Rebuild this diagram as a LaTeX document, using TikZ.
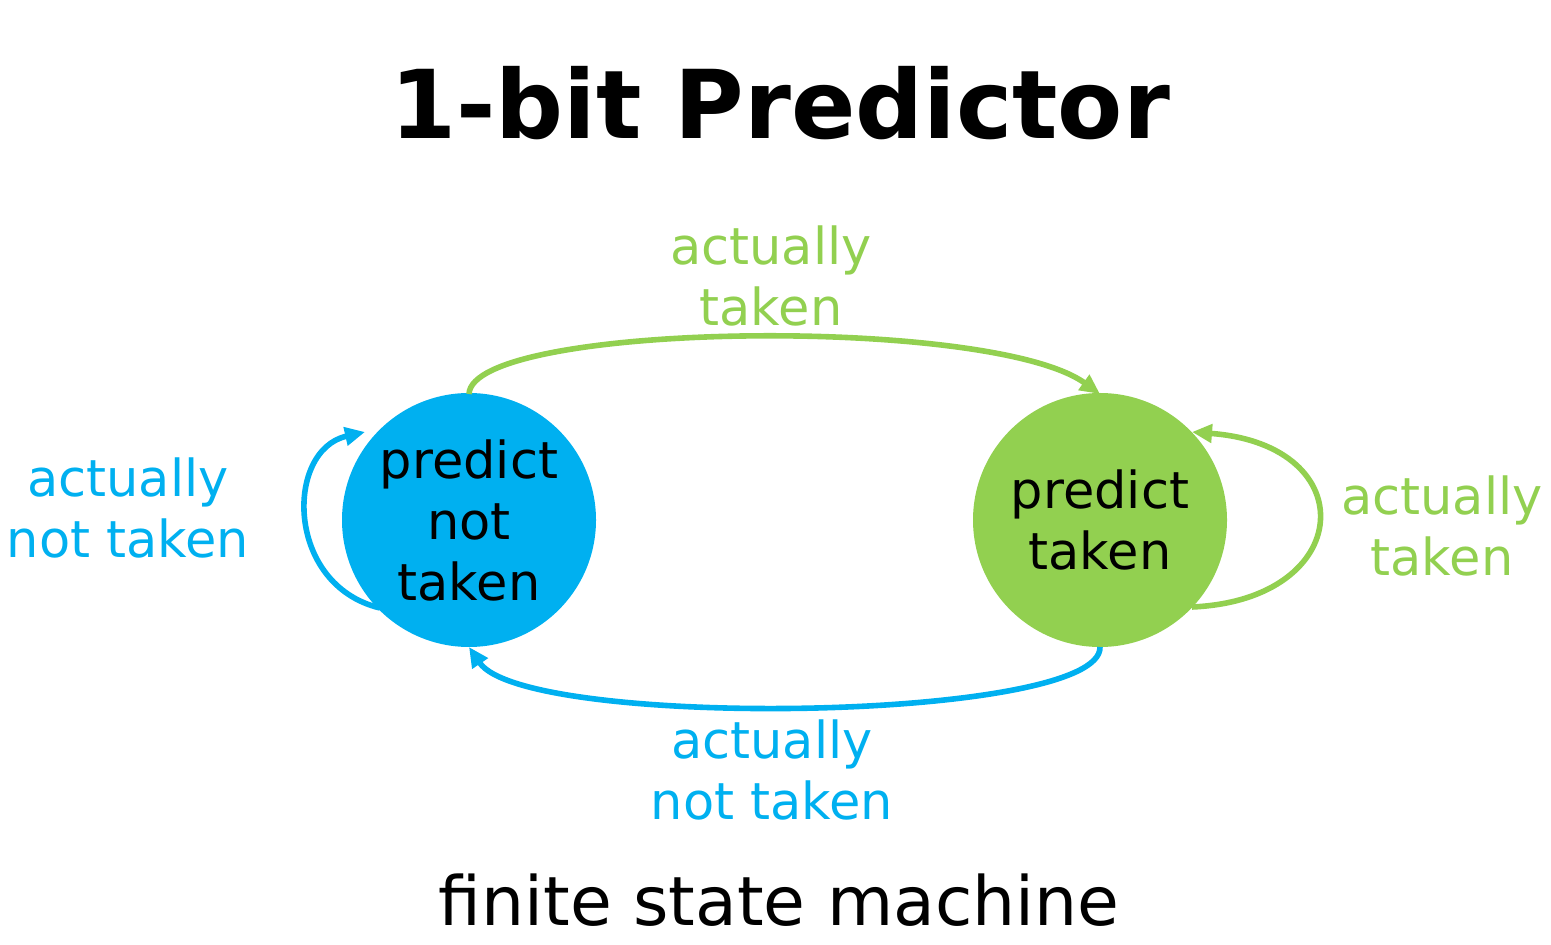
\documentclass[tikz,border=0pt]{standalone}
\usepackage{fontspec}
\setmainfont{DejaVu Sans}
\usetikzlibrary{arrows.meta}
\definecolor{cblue}{HTML}{00B0F0}
\definecolor{cgreen}{HTML}{92D050}
\tikzset{
  state/.style={circle, minimum size=127pt, inner sep=0pt, align=center, text=black, font=\fontsize{25.5}{30.5}\selectfont},
  lbl/.style={align=center, font=\fontsize{25.5}{30.5}\selectfont},
  edge/.style={line width=2.8pt, -{Triangle[length=10pt,width=9pt]}},
}
\begin{document}
\begin{tikzpicture}[x=0.5pt,y=-0.5pt]
\useasboundingbox (0,0) rectangle (1551,945);
\node[font=\bfseries\fontsize{47.5}{57}\selectfont] (title) at (780,103) {1-bit Predictor};
\node[state, fill=cblue] (nt) at (469,520) {predict\\not\\taken};
\node[state, fill=cgreen] (t) at (1100,520) {predict\\taken};
\coordinate (ntT) at (469,394);
\coordinate (ntB) at (469,647);
\coordinate (tT) at (1100,394);
\coordinate (tB) at (1100,647);
\coordinate (ntL1) at (380,608);
\coordinate (ntL2) at (365,432);
\coordinate (tR1) at (1192,607);
\coordinate (tR2) at (1192,432);
\draw[edge, cgreen] (ntT) .. controls (472,322) and (990,315) .. (tT);
\draw[edge, cblue] (tB) .. controls (1102,722) and (525,730) .. (ntB);
\draw[edge, cblue] (ntL1) .. controls (285,585) and (285,450) .. (ntL2);
\draw[edge, cgreen] (tR1) .. controls (1355,600) and (1365,445) .. (tR2);
\node[lbl, text=cgreen] (l1) at (771,276) {actually\\taken};
\node[lbl, text=cblue] (l2) at (772,770) {actually\\not taken};
\node[lbl, text=cblue] (l3) at (128,508) {actually\\not taken};
\node[lbl, text=cgreen] (l4) at (1442,526) {actually\\taken};
\node[font=\fontsize{34}{40}\selectfont] (fsm) at (779,900) {finite state machine};
\end{tikzpicture}
\end{document}
